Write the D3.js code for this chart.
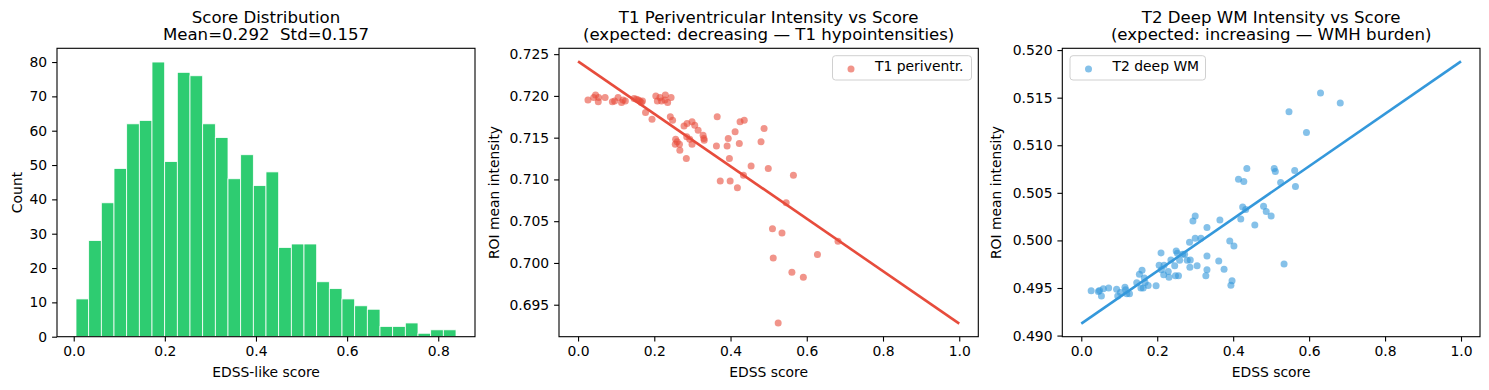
<!DOCTYPE html>
<html><head><meta charset="utf-8">
<script src="https://cdn.jsdelivr.net/npm/d3@7"></script>
<style>
body{margin:0;background:#fff}
text{font-family:"DejaVu Sans",sans-serif;fill:#000;white-space:pre}
</style></head>
<body><svg id="c" width="1489" height="390"></svg>
<script>
// ---------- DATA ----------
const histCounts = [11,28,39,49,62,63,80,51,77,76,62,58,46,53,44,48,26,27,27,16,14,11,9,8,3,3,4,1,2,2];
const histRange = [0.005, 0.839];
const histXTicks = [0.0,0.2,0.4,0.6,0.8];
const histYTicks = [0,10,20,30,40,50,60,70,80];

const t1Score = [0.026,0.041,0.046,0.053,0.054,0.071,0.090,0.096,0.105,0.114,0.118,0.124,0.147,0.153,0.158,0.162,0.166,0.169,0.177,0.194,0.204,0.208,0.215,0.219,0.229,0.228,0.235,0.244,0.242,0.248,0.256,0.255,0.260,0.266,0.267,0.278,0.286,0.285,0.284,0.293,0.299,0.299,0.306,0.315,0.328,0.330,0.331,0.363,0.365,0.373,0.391,0.394,0.397,0.399,0.412,0.418,0.423,0.425,0.434,0.436,0.454,0.480,0.488,0.499,0.510,0.512,0.525,0.535,0.546,0.561,0.565,0.591,0.628,0.682];
const t1Intensity = [0.7195,0.7198,0.7201,0.7193,0.7198,0.7198,0.7193,0.7194,0.7198,0.7192,0.7195,0.7194,0.7197,0.7196,0.7195,0.7194,0.7192,0.7194,0.7180,0.7172,0.7200,0.7194,0.7198,0.7194,0.7201,0.7195,0.7192,0.7198,0.7175,0.7171,0.7148,0.7142,0.7145,0.7142,0.7135,0.7164,0.7167,0.7151,0.7125,0.7148,0.7169,0.7142,0.7165,0.7159,0.7153,0.7149,0.7147,0.7140,0.7175,0.7098,0.7140,0.7149,0.7125,0.7098,0.7157,0.7090,0.7143,0.7169,0.7105,0.7171,0.7116,0.7145,0.7161,0.7113,0.7041,0.7006,0.6928,0.7036,0.7072,0.6989,0.7105,0.6983,0.7010,0.7026];
const t1FitX = [0, 1];
const t1FitY = [0.72413, 0.69274];
const t1YTicks = [0.695,0.700,0.705,0.710,0.715,0.720,0.725];

const t2Score = [0.026,0.045,0.048,0.053,0.058,0.072,0.093,0.096,0.103,0.115,0.117,0.120,0.127,0.146,0.153,0.160,0.157,0.163,0.166,0.168,0.176,0.197,0.205,0.210,0.211,0.217,0.218,0.229,0.231,0.236,0.246,0.248,0.250,0.253,0.256,0.259,0.267,0.272,0.279,0.285,0.286,0.287,0.294,0.300,0.300,0.305,0.315,0.331,0.331,0.331,0.328,0.362,0.365,0.376,0.391,0.394,0.397,0.402,0.414,0.420,0.425,0.428,0.433,0.436,0.457,0.480,0.487,0.500,0.508,0.511,0.525,0.534,0.547,0.562,0.564,0.593,0.630,0.682];
const t2Intensity = [0.49471,0.49464,0.49474,0.49415,0.49492,0.49499,0.49488,0.49415,0.49454,0.49509,0.49481,0.49440,0.49440,0.49555,0.49645,0.49687,0.49499,0.49499,0.49604,0.49558,0.49527,0.49523,0.49740,0.49869,0.49691,0.49638,0.49740,0.49673,0.49614,0.49795,0.49733,0.49628,0.49890,0.49865,0.49628,0.49792,0.49855,0.49855,0.49792,0.49980,0.49719,0.49795,0.50203,0.50256,0.50022,0.49733,0.50022,0.50137,0.49837,0.49691,0.49628,0.49785,0.50214,0.49698,0.49994,0.49530,0.49576,0.49942,0.50643,0.50224,0.50350,0.50619,0.50326,0.50755,0.50162,0.50360,0.50305,0.50256,0.50755,0.50723,0.50608,0.49753,0.51351,0.50734,0.50566,0.51135,0.51550,0.51445];
const t2FitX = [0, 1];
const t2FitY = [0.49126, 0.51881];
const t2YTicks = [0.490,0.495,0.500,0.505,0.510,0.515,0.520];

const scoreTicks = [0.0,0.2,0.4,0.6,0.8,1.0];

// ---------- LAYOUT ----------
const svg = d3.select("#c");
const TOP = 48.3, BOTTOM = 336.7;
const FS = 13.9, TFS = 16.6;
const panels = [
  {x0:57, x1:475},
  {x0:559, x1:978.3},
  {x0:1062.3, x1:1480}
];

function pad(ext, f=0.05){const r=ext[1]-ext[0];return [ext[0]-r*f, ext[1]+r*f];}

function drawAxes(g, x, y, xt, yt, xfmt, yfmt){
  const ax = g.append("g").attr("transform",`translate(0,${BOTTOM})`)
    .call(d3.axisBottom(x).tickValues(xt).tickFormat(d3.format(xfmt)).tickSize(4.9).tickPadding(4.9));
  const ay = g.append("g").attr("transform",`translate(${x.range()[0]},0)`)
    .call(d3.axisLeft(y).tickValues(yt).tickFormat(d3.format(yfmt)).tickSize(4.9).tickPadding(4.9));
  [ax,ay].forEach(a=>{
    a.select(".domain").remove();
    a.selectAll("line").attr("stroke","#000").attr("stroke-width",1.1);
    a.selectAll("text").attr("font-size",FS).attr("font-family","DejaVu Sans").attr("fill","#000");
  });
}
function frame(g, x0, x1){
  g.append("rect").attr("x",x0).attr("y",TOP).attr("width",x1-x0).attr("height",BOTTOM-TOP)
   .attr("fill","none").attr("stroke","#000").attr("stroke-width",1.1);
}
function title(cx, l1, l2){
  svg.append("text").attr("x",cx).attr("y",22.7).attr("text-anchor","middle").attr("font-size",TFS).text(l1);
  svg.append("text").attr("x",cx).attr("y",39.5).attr("text-anchor","middle").attr("font-size",TFS)
    .attr("xml:space","preserve").text(l2);
}
function xlabel(cx, t){
  svg.append("text").attr("x",cx).attr("y",376.5).attr("text-anchor","middle").attr("font-size",FS).text(t);
}
function ylabel(bx, t){
  svg.append("text").attr("transform",`translate(${bx},${(TOP+BOTTOM)/2}) rotate(-90)`)
    .attr("text-anchor","middle").attr("font-size",FS).text(t);
}

// ---------- PANEL 1: histogram ----------
{
  const p = panels[0];
  const g = svg.append("g");
  const x = d3.scaleLinear().domain(pad(histRange)).range([p.x0,p.x1]);
  const y = d3.scaleLinear().domain([0, d3.max(histCounts)*1.05]).range([BOTTOM,TOP]);
  const bw = (histRange[1]-histRange[0])/histCounts.length;
  g.selectAll("rect.bar").data(histCounts).join("rect").attr("class","bar")
    .attr("x",(d,i)=>x(histRange[0]+i*bw))
    .attr("width",(d,i)=>x(histRange[0]+(i+1)*bw)-x(histRange[0]+i*bw))
    .attr("y",d=>y(d)).attr("height",d=>BOTTOM-y(d))
    .attr("fill","#2ecc71").attr("stroke","#fff").attr("stroke-width",0.8);
  drawAxes(g,x,y,histXTicks,histYTicks,".1f","d");
  frame(g,p.x0,p.x1);
  title((p.x0+p.x1)/2,"Score Distribution","Mean=0.292  Std=0.157");
  xlabel((p.x0+p.x1)/2,"EDSS-like score");
  ylabel(21.5,"Count");
}

// ---------- scatter panels ----------
function scatterPanel(p, xs, ys, fx, fy, yt, color, legendText, legendLeft, legendW, t1, t2){
  const g = svg.append("g");
  const x = d3.scaleLinear().domain(pad(d3.extent(fx))).range([p.x0,p.x1]);
  const y = d3.scaleLinear().domain(pad(d3.extent(ys.concat(fy)))).range([BOTTOM,TOP]);
  const pts = xs.map((v,i)=>[v,ys[i]]);
  g.selectAll("circle.pt").data(pts).join("circle").attr("class","pt")
    .attr("cx",d=>x(d[0])).attr("cy",d=>y(d[1])).attr("r",3.5)
    .attr("fill",color).attr("fill-opacity",0.6);
  g.append("path").datum(fx.map((v,i)=>[v,fy[i]]))
    .attr("d",d3.line().x(d=>x(d[0])).y(d=>y(d[1])))
    .attr("stroke",color).attr("stroke-width",2.6).attr("fill","none");
  drawAxes(g,x,y,scoreTicks,yt,".1f",".3f");
  frame(g,p.x0,p.x1);
  // legend
  const lg = svg.append("g").attr("transform",`translate(${legendLeft},55.7)`);
  lg.append("rect").attr("width",legendW).attr("height",24.3).attr("rx",3)
    .attr("fill","#fff").attr("fill-opacity",0.8).attr("stroke","#d0d0d0").attr("stroke-width",1);
  lg.append("circle").attr("cx",18.5).attr("cy",13.3).attr("r",3.5).attr("fill",color).attr("fill-opacity",0.6);
  lg.append("text").attr("x",42.5).attr("y",15.2).attr("font-size",FS).text(legendText);
  title((p.x0+p.x1)/2,t1,t2);
  xlabel((p.x0+p.x1)/2,"EDSS score");
}
scatterPanel(panels[1], t1Score, t1Intensity, t1FitX, t1FitY, t1YTicks, "#e74c3c", "T1 periventr.", 832.5, 139,
  "T1 Periventricular Intensity vs Score","(expected: decreasing — T1 hypointensities)");
ylabel(498.5,"ROI mean intensity");
scatterPanel(panels[2], t2Score, t2Intensity, t2FitX, t2FitY, t2YTicks, "#3498db", "T2 deep WM", 1070, 135.5,
  "T2 Deep WM Intensity vs Score","(expected: increasing — WMH burden)");
ylabel(1001,"ROI mean intensity");
</script></body></html>
